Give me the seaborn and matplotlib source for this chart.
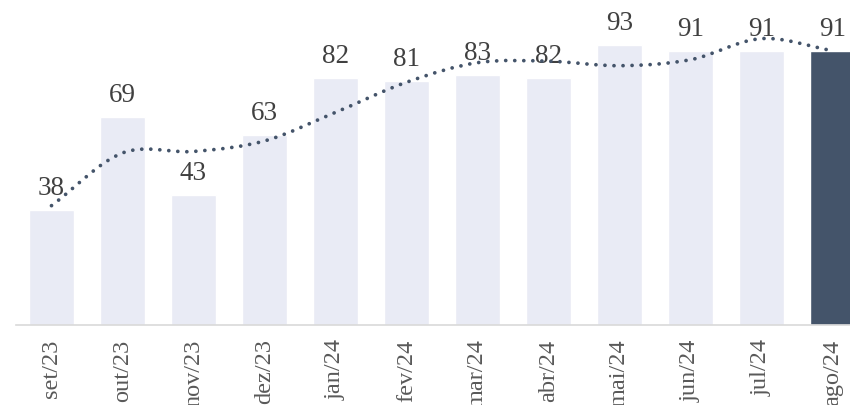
"""Recria o grafico mensal de barras com linha de tendencia pontilhada."""
import matplotlib

matplotlib.use("Agg")
import matplotlib.pyplot as plt
import numpy as np
import pandas as pd
import seaborn as sns
from matplotlib.patches import PathPatch
from matplotlib.path import Path

MESES = ["set/23", "out/23", "nov/23", "dez/23", "jan/24", "fev/24",
         "mar/24", "abr/24", "mai/24", "jun/24", "jul/24", "ago/24"]
VALORES = [38, 69, 43, 63, 82, 81, 83, 82, 93, 91, 91, 91]
TENDENCIA = [39.5, 57, 57.5, 61, 70.5, 80.5, 87, 87.5, 86, 88, 95, 91]

COR_CLARA = "#E9EBF5"
COR_ESCURA = "#44546A"
COR_TEXTO = "#404040"


def curva_suave(xs, ys):
    # bezier tipo catmull-rom passando pelos pontos (como "linha suavizada")
    pts = np.column_stack([xs, ys]).astype(float)
    ext = np.vstack([2 * pts[0] - pts[1], pts, 2 * pts[-1] - pts[-2]])
    verts = [pts[0]]
    codes = [Path.MOVETO]
    for i in range(len(pts) - 1):
        p0, p1, p2, p3 = ext[i], ext[i + 1], ext[i + 2], ext[i + 3]
        verts += [p1 + (p2 - p0) / 6, p2 - (p3 - p1) / 6, p2]
        codes += [Path.CURVE4] * 3
    return Path(verts, codes)


def main():
    sns.set_theme(style="white")
    plt.rcParams["font.family"] = ["Liberation Serif", "DejaVu Serif"]

    fig = plt.figure(figsize=(8.5, 4.06), dpi=100)
    ax = fig.add_axes([16 / 850, 80.5 / 406, 852 / 850, 325 / 406])

    df = pd.DataFrame({"mes": MESES, "valor": VALORES})
    cores = [COR_CLARA] * (len(MESES) - 1) + [COR_ESCURA]
    sns.barplot(data=df, x="mes", y="valor", hue="mes", palette=cores,
                legend=False, width=0.62, saturation=1, ax=ax)

    for i, v in enumerate(VALORES):
        ax.annotate(str(v), (i, v), xytext=(0, 11.5), textcoords="offset points",
                    ha="center", va="baseline", fontsize=19.5, color=COR_TEXTO, zorder=3)

    linha = PathPatch(curva_suave(range(len(TENDENCIA)), TENDENCIA), fill=False,
                      edgecolor=COR_ESCURA, lw=2.7, linestyle=(0, (0.01, 2.4)),
                      capstyle="round", zorder=4)
    ax.add_patch(linha)

    ax.set_xlim(-0.5, len(MESES) - 0.5)
    ax.set_ylim(0, 108)
    ax.set_xlabel("")
    ax.set_ylabel("")
    ax.set_yticks([])
    for lado in ["top", "right", "left"]:
        ax.spines[lado].set_visible(False)
    ax.spines["bottom"].set_color("#D9D9D9")
    ax.spines["bottom"].set_linewidth(1.2)
    ax.tick_params(axis="x", length=0, pad=10, labelsize=17.5,
                   labelcolor="#595959", rotation=90)

    fig.savefig("out.png", dpi=100)
    plt.close(fig)


if __name__ == "__main__":
    main()
